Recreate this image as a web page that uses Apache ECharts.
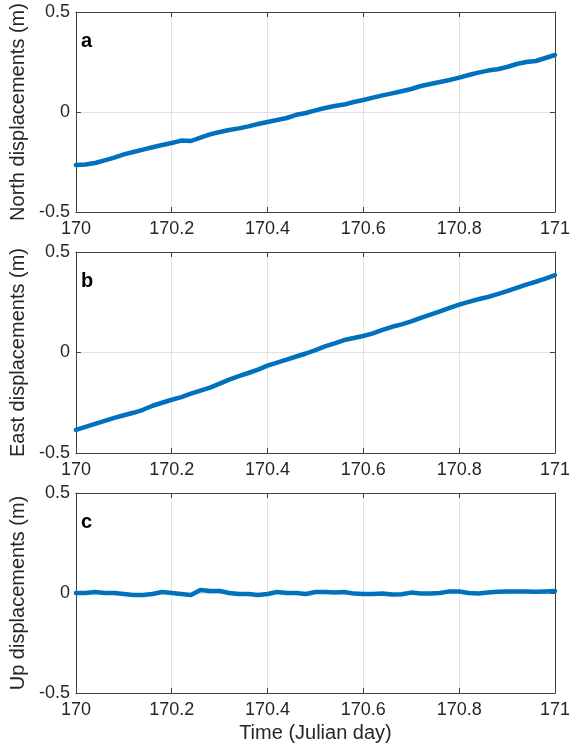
<!DOCTYPE html>
<html>
<head>
<meta charset="utf-8">
<script src="https://cdn.jsdelivr.net/npm/echarts@6/dist/echarts.min.js"></script>
<style>
html,body{margin:0;padding:0;background:#fff;}
#chart{width:573px;height:749px;}
</style>
</head>
<body>
<div id="chart"></div>
<script>
const days = [170.00,170.02,170.04,170.06,170.08,170.10,170.12,170.14,170.16,170.18,
  170.20,170.22,170.24,170.26,170.28,170.30,170.32,170.34,170.36,170.38,
  170.40,170.42,170.44,170.46,170.48,170.50,170.52,170.54,170.56,170.58,
  170.60,170.62,170.64,170.66,170.68,170.70,170.72,170.74,170.76,170.78,
  170.80,170.82,170.84,170.86,170.88,170.90,170.92,170.94,170.96,170.98,171.00];

const north = [-0.265,-0.262,-0.255,-0.242,-0.228,-0.212,-0.200,-0.188,-0.176,-0.165,
  -0.155,-0.143,-0.145,-0.128,-0.112,-0.100,-0.090,-0.082,-0.072,-0.060,
  -0.050,-0.040,-0.030,-0.014,-0.005,0.008,0.020,0.030,0.037,0.050,
  0.060,0.072,0.083,0.093,0.104,0.115,0.130,0.140,0.150,0.160,
  0.172,0.185,0.197,0.207,0.214,0.225,0.240,0.250,0.255,0.270,0.285];

const east = [-0.385,-0.370,-0.355,-0.340,-0.325,-0.312,-0.300,-0.285,-0.265,-0.250,
  -0.235,-0.222,-0.205,-0.190,-0.175,-0.155,-0.135,-0.118,-0.102,-0.085,
  -0.065,-0.050,-0.035,-0.020,-0.005,0.012,0.030,0.045,0.062,0.072,
  0.082,0.095,0.112,0.128,0.140,0.155,0.172,0.188,0.205,0.222,
  0.238,0.252,0.265,0.276,0.290,0.305,0.322,0.338,0.352,0.368,0.385];

const up = [0.000,0.000,0.005,0.000,0.000,-0.005,-0.010,-0.010,-0.005,0.005,
  0.000,-0.005,-0.010,0.015,0.010,0.010,0.000,-0.005,-0.005,-0.010,
  -0.005,0.005,0.000,0.000,-0.005,0.005,0.005,0.003,0.005,-0.003,
  -0.005,-0.005,-0.003,-0.008,-0.006,0.002,-0.002,-0.002,0.000,0.008,
  0.007,0.000,-0.002,0.003,0.006,0.008,0.008,0.008,0.006,0.008,0.010];

const panelLetters = ['a','b','c'];
const yNames = ['North displacements (m)','East displacements (m)','Up displacements (m)'];
const xName = 'Time (Julian day)';
const seriesList = [north, east, up];

const FONT = '"Liberation Sans", Arial, sans-serif';
const TXT = '#262626';
const AX = '#404040';
const GRIDC = '#e1e1e1';

const grids = [
  {left:68, right:18, top:12, height:200},
  {left:68, right:18, top:252, height:201},
  {left:68, right:18, top:493, height:200}
];

const xAxes = [], yAxes = [], series = [], graphics = [];
grids.forEach((g, i) => {
  const base = {
    gridIndex: i, type: 'value', min: 170, max: 171, interval: 0.2,
    axisLine: {show: true, onZero: false, lineStyle: {color: AX, width: 1}},
    axisTick: {show: true, inside: true, length: 5, lineStyle: {color: AX}}
  };
  xAxes.push(Object.assign({}, base, {
    position: 'bottom',
    name: i === 2 ? xName : '',
    nameLocation: 'middle', nameGap: 30,
    nameTextStyle: {fontFamily: FONT, fontSize: 20, color: TXT},
    axisLabel: {show: true, fontFamily: FONT, fontSize: 18, color: TXT, margin: 8,
      formatter: v => String(+v.toFixed(1))},
    splitLine: {show: true, lineStyle: {color: GRIDC, width: 1}}
  }));
  xAxes.push(Object.assign({}, base, {
    position: 'top', axisLabel: {show: false}, splitLine: {show: false}
  }));
  const ybase = {
    gridIndex: i, type: 'value', min: -0.5, max: 0.5, interval: 0.5,
    axisLine: {show: true, onZero: false, lineStyle: {color: AX, width: 1}},
    axisTick: {show: true, inside: true, length: 5, lineStyle: {color: AX}}
  };
  yAxes.push(Object.assign({}, ybase, {
    position: 'left',
    name: yNames[i], nameLocation: 'middle', nameGap: 43, nameRotate: 90,
    nameTextStyle: {fontFamily: FONT, fontSize: 20, color: TXT},
    axisLabel: {show: true, fontFamily: FONT, fontSize: 18, color: TXT, margin: 6,
      formatter: v => String(+v.toFixed(1))},
    splitLine: {show: true, lineStyle: {color: GRIDC, width: 1}}
  }));
  yAxes.push(Object.assign({}, ybase, {
    position: 'right', axisLabel: {show: false}, splitLine: {show: false}
  }));
  series.push({
    type: 'line', xAxisIndex: i * 2, yAxisIndex: i * 2,
    data: days.map((d, k) => [d, seriesList[i][k]]),
    showSymbol: false, symbol: 'none', smooth: false,
    lineStyle: {color: '#0072BD', width: 4.5, cap: 'round', join: 'round'},
    z: 5, animation: false
  });
  graphics.push({
    type: 'text', left: 81, top: g.top + 19,
    style: {text: panelLetters[i], font: 'bold 20px ' + FONT, fill: '#000'}
  });
});

const chart = echarts.init(document.getElementById('chart'), null, {renderer: 'canvas'});
chart.setOption({
  backgroundColor: '#fff',
  animation: false,
  grid: grids,
  xAxis: xAxes,
  yAxis: yAxes,
  series: series,
  graphic: graphics
});
</script>
</body>
</html>
